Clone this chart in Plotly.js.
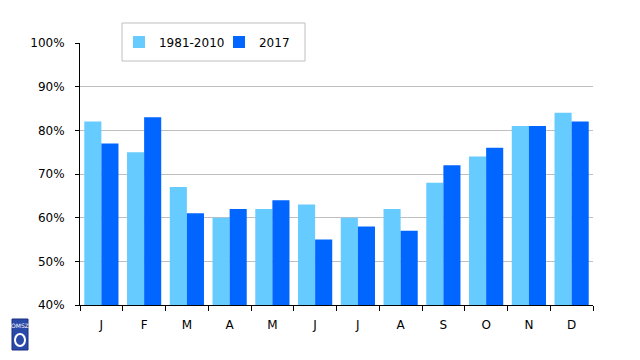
<!DOCTYPE html>
<html>
<head>
<meta charset="utf-8">
<script src="https://cdn.plot.ly/plotly-3.0.1.min.js"></script>
<style>html,body{margin:0;padding:0;background:#fff;}#chart{width:640px;height:360px;}</style>
</head>
<body>
<div id="chart"></div>
<script>
const months = ["J","F","M","A","M ","J ","J  ","A ","S","O","N","D"];
const tickText = ["J","F","M","A","M","J","J","A","S","O","N","D"];
const normal = [82,75,67,60,62,63,60,62,68,74,81,84];
const y2017 = [77,83,61,62,64,55,58,57,72,76,81,82];
const seriesNames = ["1981-2010","2017"];
const yTicks = [40,50,60,70,80,90,100];
const yTickText = yTicks.map(v => v + "%");

const fam = "DejaVu Sans, Verdana, sans-serif";

const data = [
  {type:"bar", x:months, y:normal, name:seriesNames[0], marker:{color:"#66ccff"}, hoverinfo:"none"},
  {type:"bar", x:months, y:y2017, name:seriesNames[1], marker:{color:"#0066ff"}, hoverinfo:"none"}
];

const layout = {
  width:640, height:360,
  margin:{l:80, r:47, t:43, b:55},
  paper_bgcolor:"#fff", plot_bgcolor:"#fff",
  font:{family:fam, size:12, color:"#000"},
  barmode:"group", bargap:0.2, bargroupgap:0,
  showlegend:true,
  legend:{orientation:"h", x:0.076, xanchor:"left", y:1.0038, yanchor:"middle",
    bgcolor:"rgba(0,0,0,0)", borderwidth:0,
    font:{family:fam, size:12, color:"#000"},
    entrywidth:55, itemwidth:30, traceorder:"normal"},
  xaxis:{type:"category", tickvals:months, ticktext:tickText, tickson:"boundaries",
    ticks:"outside", ticklen:5, tickcolor:"#000", showline:true, linecolor:"#000", linewidth:1,
    showgrid:false, zeroline:false, fixedrange:true, ticklabelstandoff:9},
  yaxis:{range:[40,100], tickvals:yTicks, ticktext:yTickText, ticks:"outside", ticklen:4,
    tickcolor:"#000", showline:true, linecolor:"#000", linewidth:1,
    showgrid:true, gridcolor:"#bfbfbf", gridwidth:1, zeroline:false, fixedrange:true,
    ticklabelstandoff:8},
  shapes:[
    {type:"rect", xref:"paper", yref:"paper", x0:0.0819, x1:0.4386, y0:0.9313, y1:1.0763,
      fillcolor:"#fff", line:{color:"#bfbfbf", width:1}, layer:"above"},
    {type:"rect", xref:"paper", yref:"paper", xsizemode:"pixel", ysizemode:"pixel",
      xanchor:0, yanchor:0, x0:-68, x1:-52, y0:-45, y1:-14,
      fillcolor:"#2a4aa8", line:{color:"#1a2f80", width:1}, layer:"above"},
    {type:"circle", xref:"paper", yref:"paper", xsizemode:"pixel", ysizemode:"pixel",
      xanchor:0, yanchor:0, x0:-65, x1:-55, y0:-41, y1:-29,
      fillcolor:"rgba(0,0,0,0)", line:{color:"#ffffff", width:2}, layer:"above"}
  ],
  annotations:[
    {xref:"paper", yref:"paper", x:0, y:0, xshift:-60, yshift:-20, xanchor:"center", yanchor:"middle",
      text:"OMSZ", showarrow:false, font:{family:"DejaVu Sans", size:6, color:"#fff"}}
  ]
};

Plotly.newPlot("chart", data, layout, {displayModeBar:false, staticPlot:true});
</script>
</body>
</html>
